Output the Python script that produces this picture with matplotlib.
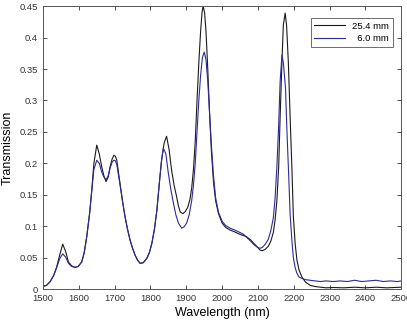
import matplotlib
matplotlib.use('Agg')
import matplotlib.pyplot as plt
import numpy as np

plt.rcParams['font.family'] = ['Liberation Sans', 'DejaVu Sans']

# wavelength (nm) and transmission
wl_thick = [1500, 1510, 1520, 1530, 1538, 1547, 1555, 1563, 1571, 1580, 1589, 1598, 1608, 1615,
            1622, 1630, 1636, 1642, 1650, 1657, 1664, 1670, 1676, 1682, 1687, 1693, 1698, 1702,
            1706, 1715, 1722, 1729, 1736, 1743, 1750, 1757, 1764, 1771, 1780, 1790, 1797, 1804,
            1811, 1818, 1825, 1831, 1838, 1845, 1852, 1859, 1866, 1873, 1878, 1883, 1890, 1897,
            1904, 1910, 1915, 1920, 1925, 1930, 1935, 1940, 1944, 1947, 1951, 1955, 1960, 1965,
            1970, 1976, 1982, 1990, 2000, 2010, 2022, 2035, 2050, 2060, 2069, 2080, 2090, 2100,
            2106, 2112, 2120, 2129, 2136, 2143, 2148, 2153, 2158, 2162, 2167, 2171, 2176, 2180,
            2185, 2190, 2195, 2199, 2204, 2209, 2215, 2223, 2233, 2246, 2260, 2275, 2290, 2310,
            2340, 2370, 2400, 2430, 2460, 2500]
tr_thick = [0.004, 0.006, 0.012, 0.022, 0.035, 0.055, 0.0715, 0.060, 0.043, 0.037, 0.0345, 0.036,
            0.043, 0.058, 0.083, 0.120, 0.157, 0.200, 0.229, 0.215, 0.194, 0.180, 0.171, 0.178,
            0.194, 0.207, 0.213, 0.211, 0.205, 0.168, 0.140, 0.115, 0.095, 0.078, 0.065, 0.054,
            0.046, 0.041, 0.042, 0.049, 0.058, 0.073, 0.095, 0.126, 0.170, 0.205, 0.232, 0.243,
            0.222, 0.189, 0.165, 0.147, 0.132, 0.123, 0.120, 0.123, 0.130, 0.142, 0.160, 0.190,
            0.235, 0.300, 0.360, 0.410, 0.440, 0.450, 0.440, 0.410, 0.350, 0.280, 0.220, 0.170,
            0.140, 0.120, 0.105, 0.098, 0.094, 0.091, 0.087, 0.085, 0.083, 0.078, 0.072, 0.066,
            0.062, 0.061, 0.063, 0.068, 0.076, 0.090, 0.110, 0.141, 0.195, 0.273, 0.360, 0.420,
            0.439, 0.420, 0.360, 0.273, 0.190, 0.115, 0.072, 0.046, 0.030, 0.019, 0.011, 0.006,
            0.004, 0.003, 0.002, 0.0025, 0.002, 0.003, 0.002, 0.003, 0.002, 0.003]

wl_thin = [1500, 1510, 1520, 1530, 1538, 1547, 1555, 1563, 1571, 1580, 1589, 1598, 1608, 1615,
           1622, 1630, 1636, 1642, 1650, 1657, 1664, 1670, 1676, 1682, 1687, 1693, 1698, 1702,
           1706, 1715, 1722, 1729, 1736, 1743, 1750, 1757, 1764, 1771, 1780, 1790, 1797, 1804,
           1811, 1818, 1825, 1831, 1836, 1843, 1850, 1857, 1864, 1871, 1878, 1887, 1894, 1901,
           1908, 1915, 1920, 1925, 1930, 1935, 1940, 1945, 1950, 1955, 1960, 1965, 1970, 1976,
           1982, 1990, 2000, 2010, 2022, 2035, 2050, 2060, 2069, 2080, 2090, 2100, 2106, 2112,
           2120, 2129, 2136, 2143, 2148, 2153, 2158, 2162, 2167, 2171, 2177, 2181, 2186, 2190,
           2195, 2199, 2204, 2209, 2215, 2223, 2233, 2246, 2260, 2275, 2290, 2310, 2330, 2350,
           2370, 2390, 2410, 2430, 2450, 2470, 2490, 2500]
tr_thin = [0.005, 0.006, 0.012, 0.022, 0.034, 0.049, 0.056, 0.051, 0.041, 0.036, 0.0345, 0.036,
           0.043, 0.058, 0.083, 0.120, 0.155, 0.190, 0.205, 0.200, 0.186, 0.178, 0.174, 0.180,
           0.192, 0.202, 0.205, 0.204, 0.198, 0.166, 0.139, 0.115, 0.095, 0.078, 0.065, 0.054,
           0.046, 0.041, 0.042, 0.049, 0.058, 0.073, 0.095, 0.126, 0.170, 0.205, 0.224, 0.215,
           0.184, 0.158, 0.137, 0.118, 0.105, 0.097, 0.099, 0.105, 0.118, 0.140, 0.165, 0.200,
           0.250, 0.300, 0.340, 0.368, 0.377, 0.365, 0.330, 0.280, 0.230, 0.180, 0.145, 0.122,
           0.108, 0.101, 0.097, 0.094, 0.090, 0.087, 0.082, 0.076, 0.070, 0.066, 0.065, 0.066,
           0.071, 0.079, 0.093, 0.113, 0.145, 0.195, 0.262, 0.330, 0.372, 0.360, 0.320, 0.252,
           0.180, 0.118, 0.076, 0.050, 0.034, 0.025, 0.019, 0.017, 0.015, 0.014, 0.013, 0.012,
           0.013, 0.012, 0.013, 0.012, 0.014, 0.012, 0.013, 0.014, 0.012, 0.013, 0.012, 0.013]

labels = ['25.4 mm', '  6.0 mm']

fig = plt.figure(figsize=(4.07, 3.23), dpi=100)
ax = fig.add_axes([0.1057, 0.105, 0.88, 0.876])

ax.plot(wl_thick, tr_thick, color='#1a1a1a', lw=0.8, label=labels[0])
ax.plot(wl_thin, tr_thin, color='#2b2b9c', lw=0.8, label=labels[1])

ax.set_xlim(1500, 2500)
ax.set_ylim(0, 0.45)
ax.set_xticks(np.arange(1500, 2501, 100))
ax.set_yticks(np.arange(0, 0.451, 0.05))
ax.set_yticklabels(['0', '0.05', '0.1', '0.15', '0.2', '0.25', '0.3', '0.35', '0.4', '0.45'])
ax.tick_params(direction='in', top=True, right=True, labelsize=6.8, length=3, width=0.6, colors='#333333')
for s in ax.spines.values():
    s.set_linewidth(0.7)
    s.set_color('#555555')

ax.set_xlabel('Wavelength (nm)', fontsize=9, labelpad=3)
ax.set_ylabel('Transmission', fontsize=9, labelpad=4)

leg = ax.legend(loc='upper right', fontsize=6.8, fancybox=False, framealpha=1,
                edgecolor='#555555', handlelength=3.2, borderpad=0.4, labelspacing=0.4,
                bbox_to_anchor=(0.99, 0.975))
leg.get_frame().set_linewidth(0.6)

fig.savefig('out.png', dpi=100)
